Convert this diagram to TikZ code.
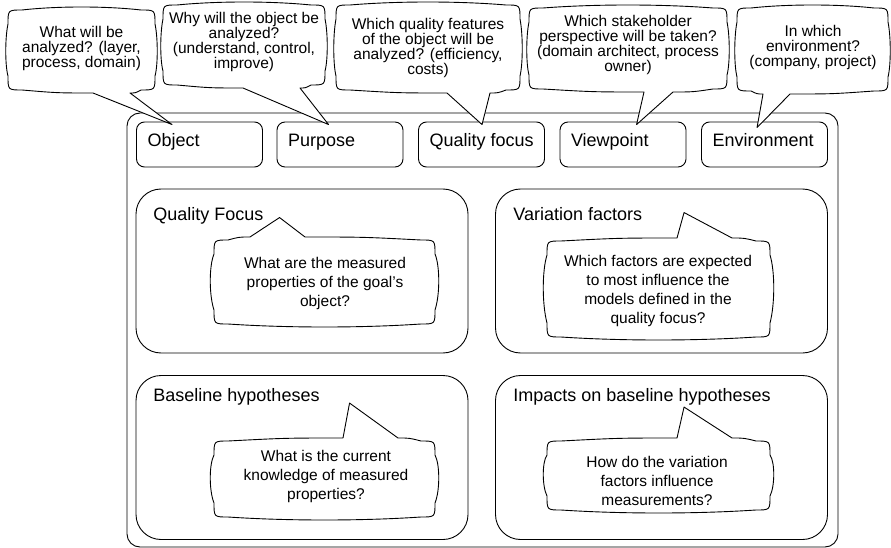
\documentclass[tikz,border=0pt]{standalone}
\usepackage{fontspec}
\setmainfont{Liberation Sans}
\usetikzlibrary{calc}

% geometry of the speech bubbles
\newcommand\bubR{14}  % corner radius
\newcommand\bubB{4}   % bulge of the plain long edge
\newcommand\bubS{3}   % bulge of the side edges (upper bubbles)
\newcommand\bubSi{5}  % bulge of the side edges (panel bubbles)
\newcommand\bubT{3}   % dip of the tail edge towards its tail

% bubble with its tail on the bottom edge:
% #1,#2 top left, #3,#4 bottom right, #5,#6 tail base x, #7 tail tip
\newcommand\calloutdown[7]{%
  \draw[callout] ({#1+\bubR},#2)
    .. controls ({(2*#1+#3)/3},{#2-\bubB}) and ({(#1+2*#3)/3},{#2-\bubB}) .. ({#3-\bubR},#2)
    .. controls (#3,#2) .. (#3,{#2+\bubR})
    .. controls ({#3+\bubS},{(2*#2+#4)/3}) and ({#3+\bubS},{(#2+2*#4)/3}) .. (#3,{#4-\bubT-\bubR})
    .. controls (#3,{#4-\bubT}) .. ({#3-\bubR},{#4-\bubT})
    .. controls ({(#3-\bubR+#6)/2},#4) .. (#6,#4) -- (#7) -- (#5,#4)
    .. controls ({(#1+\bubR+#5)/2},#4) .. ({#1+\bubR},{#4-\bubT})
    .. controls (#1,{#4-\bubT}) .. (#1,{#4-\bubT-\bubR})
    .. controls ({#1-\bubS},{(#2+2*#4)/3}) and ({#1-\bubS},{(2*#2+#4)/3}) .. (#1,{#2+\bubR})
    .. controls (#1,#2) .. cycle;}

% bubble with its tail on the top edge
\newcommand\calloutup[7]{%
  \draw[callout] ({#1+\bubR},{#2+\bubT})
    .. controls ({(#1+\bubR+#5)/2},#2) .. (#5,#2) -- (#7) -- (#6,#2)
    .. controls ({(#6+#3-\bubR)/2},#2) .. ({#3-\bubR},{#2+\bubT})
    .. controls (#3,{#2+\bubT}) .. (#3,{#2+\bubT+\bubR})
    .. controls ({#3+\bubSi},{(2*#2+#4)/3}) and ({#3+\bubSi},{(#2+2*#4)/3}) .. (#3,{#4-\bubR})
    .. controls (#3,#4) .. ({#3-\bubR},#4)
    .. controls ({(#1+2*#3)/3},{#4+\bubB}) and ({(2*#1+#3)/3},{#4+\bubB}) .. ({#1+\bubR},#4)
    .. controls (#1,#4) .. (#1,{#4-\bubR})
    .. controls ({#1-\bubSi},{(#2+2*#4)/3}) and ({#1-\bubSi},{(2*#2+#4)/3}) .. (#1,{#2+\bubT+\bubR})
    .. controls (#1,{#2+\bubT}) .. cycle;}

\begin{document}
\begin{tikzpicture}[x=1pt,y=-1pt,line width=0.9pt,
  frame/.style={draw, rounded corners=13pt, minimum width=711pt, minimum height=434pt, inner sep=0pt},
  slot/.style={draw, rounded corners=8pt, minimum width=126pt, minimum height=45pt, inner sep=0pt},
  panel/.style={draw, rounded corners=25pt, minimum width=332pt, minimum height=164pt, inner sep=0pt},
  title/.style={anchor=base west, inner sep=0pt, font=\fontsize{18}{21}\selectfont},
  callout/.style={draw, fill=white, line join=round},
  topq/.style={align=center, inner sep=0pt, font=\fontsize{15.5}{15}\selectfont},
  innerq/.style={align=center, inner sep=0pt, font=\fontsize{15.5}{19}\selectfont}]

\useasboundingbox (0,0) rectangle (891,548);

% outer frame
\node[frame] (goal) at (482.5,330) {};

% goal template slots
\node[slot] (obj)  at (199.5,144.5) {};
\node[slot] (purp) at (340,144.5)   {};
\node[slot] (qf)   at (481.5,144.5) {};
\node[slot] (view) at (623,144.5)   {};
\node[slot] (env)  at (764.5,144.5) {};
\node[title] (lobj)  at ([shift={(11,25)}]obj.north west)  {Object};
\node[title] (lpurp) at ([shift={(11,25)}]purp.north west) {Purpose};
\node[title] (lqf)   at ([shift={(11,25)}]qf.north west)   {Quality focus};
\node[title] (lview) at ([shift={(11,25)}]view.north west) {Viewpoint};
\node[title] (lenv)  at ([shift={(11,25)}]env.north west)  {Environment};

% the four panels
\node[panel] (pqf) at (302,271)     {};
\node[panel] (pvf) at (661.5,271)   {};
\node[panel] (pbh) at (302,457.5)   {};
\node[panel] (pib) at (661.5,457.5) {};

% tail tips
\coordinate (t1) at ([shift={(36,3)}]obj.north west);
\coordinate (t2) at ([shift={(52,3)}]purp.north west);
\coordinate (t3) at ([shift={(64,3)}]qf.north west);
\coordinate (t4) at ([shift={(77,3)}]view.north west);
\coordinate (t5) at ([shift={(56,6)}]env.north west);
\coordinate (i1) at ([shift={(144,29)}]pqf.north west);
\coordinate (i2) at ([shift={(189,24)}]pvf.north west);
\coordinate (i3) at ([shift={(214,28)}]pbh.north west);
\coordinate (i4) at ([shift={(189,32)}]pib.north west);

% questions on the slots
\calloutdown{8}{10}{155}{93}{93}{130}{t1}
\calloutdown{163}{5}{325}{88}{243}{300}{t2}
\calloutdown{336}{5}{520}{93}{447}{490}{t3}
\calloutdown{529}{8}{727}{92}{644}{673}{t4}
\calloutdown{737}{8}{888}{94}{763}{790}{t5}

\node[topq] (q1) at (81.5,48) {What will be\\analyzed? (layer,\\process, domain)};
\node[topq] (q2) at (244,42)  {Why will the object be\\analyzed?\\(understand, control,\\improve)};
\node[topq] (q3) at (428,48)  {Which quality features\\of the object will be\\analyzed? (efficiency,\\costs)};
\node[topq] (q4) at (628,45)  {Which stakeholder\\perspective will be taken?\\(domain architect, process\\owner)};
\node[topq] (q5) at (813,47)  {In which\\environment?\\(company, project)};

% questions inside the panels
\calloutup{214}{237}{435}{324}{250}{305}{i1}
\calloutup{547}{238}{770}{337}{677}{732}{i2}
\calloutup{214}{438}{435}{517}{343}{398}{i3}
\calloutup{547}{438}{770}{510}{677}{732}{i4}

\node[innerq] (a1) at (325,283)   {What are the measured\\properties of the goal's\\object?};
\node[innerq] (a2) at (658,291)   {Which factors are expected\\to most influence the\\models defined in the\\quality focus?};
\node[innerq] (a3) at (326,476.5) {What is the current\\knowledge of measured\\properties?};
\node[innerq] (a4) at (657,481)   {How do the variation\\factors influence\\measurements?};

% panel titles, set over the bubble tails
\node[title] (tqf) at (153,220) {Quality Focus};
\node[title] (tvf) at (513,220) {Variation factors};
\node[title] (tbh) at (153,401) {Baseline hypotheses};
\node[title] (tib) at (513,401) {Impacts on baseline hypotheses};
\end{tikzpicture}
\end{document}
